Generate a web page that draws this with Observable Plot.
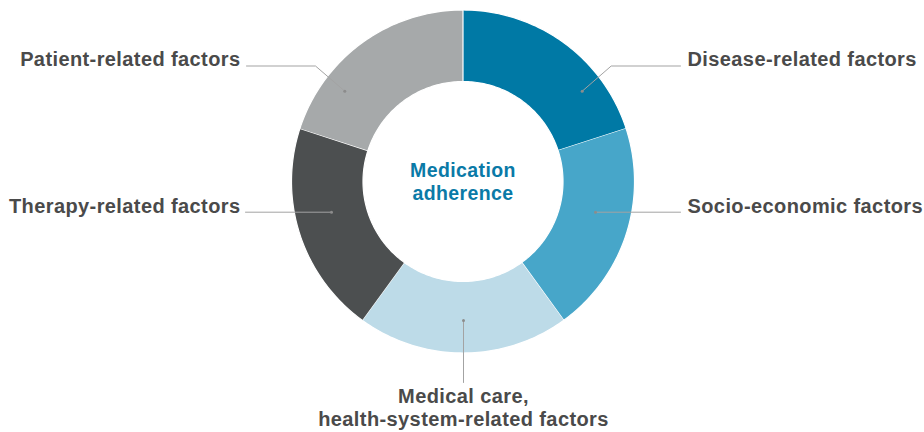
<!DOCTYPE html>
<html>
<head>
<meta charset="utf-8">
<script src="https://cdn.jsdelivr.net/npm/d3@7"></script>
<script src="https://cdn.jsdelivr.net/npm/@observablehq/plot@0.6"></script>
<style>
  html, body { margin: 0; padding: 0; background: #fff; }
  #chart svg text { letter-spacing: 0.4px; }
</style>
</head>
<body>
<div id="chart"></div>
<script>
// ---- Data ----
const factors = [
  "Disease-related factors",
  "Socio-economic factors",
  "Medical care, health-system-related factors",
  "Therapy-related factors",
  "Patient-related factors"
];
const shares = [1, 1, 1, 1, 1];
const sliceColors = ["#0079a5", "#47a6c9", "#bddbe8", "#4c4f50", "#a6a9aa"];
const centerLines = ["Medication", "adherence"];

// label lines (text split into rows as drawn)
const labelRows = [
  ["Disease-related factors"],
  ["Socio-economic factors"],
  ["Medical care,", "health-system-related factors"],
  ["Therapy-related factors"],
  ["Patient-related factors"]
];

// ---- Layout (pixel offsets from donut centre) ----
const W = 924, H = 432, CX = 462.5, CY = 181;
const R_OUT = 171.5, R_IN = 100;
// text anchor positions per label, offsets from centre
const labelLayout = [
  {x: 224.5, y: -121.6, anchor: "start", dy: 0},
  {x: 224.5, y: 24.6, anchor: "start", dy: 0},
  {x: 0.5, y: 215.0, anchor: "middle", dy: 22.8},
  {x: -222.5, y: 24.6, anchor: "end", dy: 0},
  {x: -222.5, y: -121.6, anchor: "end", dy: 0}
];
// leader polylines: from label side to dot inside slice
const leaderLayout = [
  [[217.5, -115.5], [148.2, -115.5], [119.2, -90.3]],
  [[217.5, 30.7], [132.5, 30.7]],
  [[0.5, 201], [0.5, 139]],
  [[-217.5, 30.7], [-131.5, 30.7]],
  [[-216.5, -115.5], [-147.5, -115.5], [-118.2, -90.3]]
];

// ---- Build slice polygons from the data ----
const pie = d3.pie().sort(null).value(d => d.share).startAngle(0).endAngle(2 * Math.PI);
const arcs = pie(factors.map((f, i) => ({factor: f, share: shares[i]})));
const polyRows = [];
const STEPS = 72;
for (const a of arcs) {
  const f = a.data.factor;
  for (let k = 0; k <= STEPS; k++) {
    const t = a.startAngle + (a.endAngle - a.startAngle) * k / STEPS;
    polyRows.push({factor: f, x: R_OUT * Math.sin(t), y: -R_OUT * Math.cos(t)});
  }
  for (let k = STEPS; k >= 0; k--) {
    const t = a.startAngle + (a.endAngle - a.startAngle) * k / STEPS;
    polyRows.push({factor: f, x: R_IN * Math.sin(t), y: -R_IN * Math.cos(t)});
  }
}

const leaderRows = [];
leaderLayout.forEach((pts, i) => pts.forEach(p => leaderRows.push({factor: factors[i], x: p[0], y: p[1]})));
const dotRows = leaderLayout.map((pts, i) => ({factor: factors[i], x: pts[pts.length - 1][0], y: pts[pts.length - 1][1]}));

const textRows = [];
labelRows.forEach((rows, i) => {
  const L = labelLayout[i];
  rows.forEach((txt, j) => textRows.push({text: txt, x: L.x, y: L.y + j * L.dy, anchor: L.anchor}));
});
const centerRows = centerLines.map((t, j) => ({text: t, x: 0, y: -10.9 + j * 23.4}));

const chart = Plot.plot({
  width: W,
  height: H,
  margin: 0,
  x: {domain: [-CX, W - CX], range: [0, W], axis: null},
  y: {domain: [-CY, H - CY], range: [0, H], axis: null},
  color: {domain: factors, range: sliceColors},
  style: {fontFamily: "'Liberation Sans', Arial, Helvetica, sans-serif", background: "#fff"},
  marks: [
    Plot.line(polyRows, {x: "x", y: "y", z: "factor", fill: "factor", stroke: "white", strokeWidth: 1.2, strokeLinejoin: "round"}),
    Plot.line(leaderRows, {x: "x", y: "y", z: "factor", stroke: "#a3a3a3", strokeWidth: 1}),
    Plot.dot(dotRows, {x: "x", y: "y", r: 1.5, fill: "#8c8c8c", stroke: null}),
    Plot.text(textRows.filter(d => d.anchor === "start"), {x: "x", y: "y", text: "text", textAnchor: "start", lineAnchor: "middle", fontSize: 20, fontWeight: "bold", fill: "#4a4a4a"}),
    Plot.text(textRows.filter(d => d.anchor === "end"), {x: "x", y: "y", text: "text", textAnchor: "end", lineAnchor: "middle", fontSize: 20, fontWeight: "bold", fill: "#4a4a4a"}),
    Plot.text(textRows.filter(d => d.anchor === "middle"), {x: "x", y: "y", text: "text", textAnchor: "middle", lineAnchor: "middle", fontSize: 20, fontWeight: "bold", fill: "#4a4a4a"}),
    Plot.text(centerRows, {x: "x", y: "y", text: "text", textAnchor: "middle", lineAnchor: "middle", fontSize: 19.5, fontWeight: "bold", fill: "#0a7aa7"})
  ]
});
document.getElementById("chart").appendChild(chart);
</script>
</body>
</html>
